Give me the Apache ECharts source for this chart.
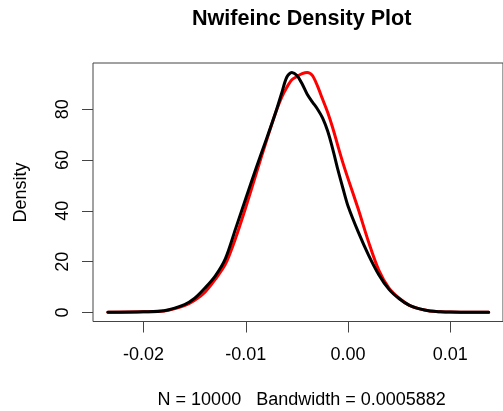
<!DOCTYPE html>
<html>
<head>
<meta charset="utf-8">
<script src="https://cdn.jsdelivr.net/npm/echarts@6/dist/echarts.min.js"></script>
<style>
html,body{margin:0;padding:0;background:#fff;}
#chart{width:503px;height:411px;}
</style>
</head>
<body>
<div id="chart"></div>
<script>
// Data
var xGrid = [-0.0235, -0.02, -0.018, -0.016, -0.015, -0.014, -0.013, -0.012, -0.011, -0.010,
  -0.009, -0.008, -0.007, -0.0065, -0.006, -0.0055, -0.005, -0.0045, -0.004, -0.0035,
  -0.003, -0.0025, -0.002, -0.0015, -0.001, -0.0005, 0, 0.001, 0.002, 0.003,
  0.004, 0.005, 0.006, 0.007, 0.008, 0.009, 0.010, 0.012, 0.01375];
var redDensity = [0.1, 0.3, 0.6, 2.7, 4.8, 8.0, 13.0, 19.0, 29.3, 41.5,
  54.5, 67.4, 79.6, 84.7, 88.6, 91.6, 92.9, 94.0, 94.5, 93.3,
  89.2, 84.0, 78.8, 72.6, 65.6, 58.8, 52.6, 40.6, 27.8, 16.7,
  9.6, 5.6, 2.8, 1.4, 0.6, 0.3, 0.15, 0.1, 0.1];
var blackDensity = [0.1, 0.3, 0.7, 3.1, 5.6, 9.6, 14.3, 21.2, 33.0, 45.0,
  56.8, 68.1, 79.8, 86.3, 92.6, 94.5, 93.3, 90.0, 85.9, 82.9,
  80.1, 76.6, 71.4, 64.3, 56.2, 48.8, 41.8, 31.6, 22.6, 14.9,
  9.1, 5.4, 2.8, 1.4, 0.6, 0.3, 0.15, 0.1, 0.1];
var xTicks = [-0.02, -0.01, 0.00, 0.01];
var yTicks = [0, 20, 40, 60, 80];
var titleText = 'Nwifeinc Density Plot';
var subText = 'N = 10000   Bandwidth = 0.0005882';
var yTitle = 'Density';

function pairs(xs, ys) {
  var out = [];
  for (var i = 0; i < xs.length; i++) out.push([xs[i], ys[i]]);
  return out;
}

var FONT = "'Liberation Sans', Arial, Helvetica, sans-serif";
var chart = echarts.init(document.getElementById('chart'), null, {renderer: 'canvas'});
chart.setOption({
  animation: false,
  backgroundColor: '#ffffff',
  grid: {
    show: true, left: 93, top: 63, width: 417, height: 258.5,
    borderColor: '#444', borderWidth: 1, backgroundColor: 'transparent'
  },
  xAxis: {
    type: 'value', min: -0.02495, max: 0.01515,
    axisLine: {show: false, onZero: false},
    splitLine: {show: false},
    axisTick: {show: true, length: 11, lineStyle: {color: '#444', width: 1}, customValues: xTicks},
    axisLabel: {
      color: '#000', fontSize: 18, fontFamily: FONT, margin: 25,
      customValues: xTicks,
      formatter: function (v) { return (Math.abs(v) < 1e-12 ? 0 : v).toFixed(2); }
    }
  },
  yAxis: {
    type: 'value', min: -3.55, max: 98.2,
    axisLine: {show: false, onZero: false},
    splitLine: {show: false},
    axisTick: {show: true, length: 11, lineStyle: {color: '#444', width: 1}, customValues: yTicks},
    axisLabel: {
      color: '#000', fontSize: 18, fontFamily: FONT, margin: 21, rotate: 90,
      customValues: yTicks
    }
  },
  graphic: [
    {type: 'text', x: 301.7, y: 19.5,
      style: {text: titleText, fill: '#000', font: 'bold 21.6px ' + FONT, align: 'center', verticalAlign: 'middle'}},
    {type: 'text', x: 301.7, y: 400,
      style: {text: subText, fill: '#000', font: '18px ' + FONT, align: 'center', verticalAlign: 'middle'}},
    {type: 'text', x: 20.7, y: 192.5, rotation: Math.PI / 2,
      style: {text: yTitle, fill: '#000', font: '18px ' + FONT, align: 'center', verticalAlign: 'middle'}}
  ],
  series: [
    {type: 'line', name: 'red', data: pairs(xGrid, redDensity), showSymbol: false, symbol: 'none',
      smooth: 0.3, lineStyle: {color: '#ff0000', width: 3, join: 'round', cap: 'round'}, z: 2},
    {type: 'line', name: 'black', data: pairs(xGrid, blackDensity), showSymbol: false, symbol: 'none',
      smooth: 0.3, lineStyle: {color: '#000000', width: 3, join: 'round', cap: 'round'}, z: 3}
  ]
});
</script>
</body>
</html>
